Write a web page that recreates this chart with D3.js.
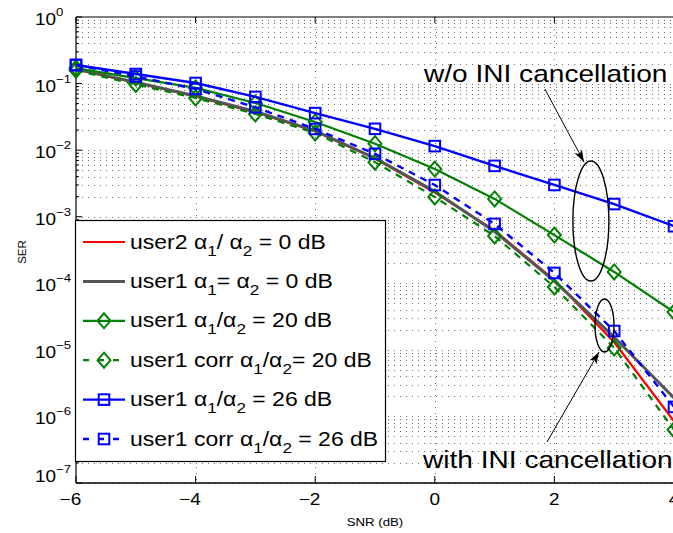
<!DOCTYPE html>
<html><head><meta charset="utf-8">
<script src="https://cdn.jsdelivr.net/npm/d3@7"></script>
<style>
body{margin:0;background:#fff;}
svg{display:block;}
text{font-family:"Liberation Sans",Arial,Helvetica,sans-serif;fill:#000;}
</style>
</head><body>
<svg id="chart" width="673" height="533"></svg>
<script>
// ---------------- data ----------------
const snr = [-6, -5, -4, -3, -2, -1, 0, 1, 2, 3, 4];
const user2_0dB      = [0.163, 0.103, 0.064, 0.037, 0.0192, 0.0075, 0.0023, 0.00062, 1.12e-4, 1.30e-5, 8.5e-7];
const user1_0dB      = [0.165, 0.105, 0.065, 0.038, 0.0195, 0.0076, 0.0024, 0.00060, 1.08e-4, 1.55e-5, 1.9e-6];
const user1_20dB     = [0.171, 0.121, 0.086, 0.051, 0.0265, 0.0125, 0.0052, 0.00185, 0.00053, 0.000148, 3.7e-5];
const user1corr_20dB = [0.158, 0.097, 0.0607, 0.0349, 0.0181, 0.0066, 0.00198, 0.000513, 8.8e-5, 1.07e-5, 6.3e-7];
const user1_26dB     = [0.19, 0.139, 0.102, 0.063, 0.036, 0.0209, 0.0115, 0.0058, 0.0030, 0.00155, 0.00072];
const user1corr_26dB = [0.19, 0.128, 0.083, 0.044, 0.0208, 0.0088, 0.00299, 0.00078, 0.000143, 1.92e-5, 1.39e-6];
const seriesLabels = [
  "user2 α_1/ α_2 = 0 dB",
  "user1 α_1= α_2 = 0 dB",
  "user1 α_1/α_2 = 20 dB",
  "user1 corr α_1/α_2= 20 dB",
  "user1 α_1/α_2 = 26 dB",
  "user1 corr α_1/α_2 = 26 dB"
];
const xTicks = [-6, -4, -2, 0, 2, 4];
const yTickExps = [0, -1, -2, -3, -4, -5, -6, -7];
const xLabel = "SNR (dB)";
const yLabel = "SER";
const annotTop = "w/o INI cancellation";
const annotBottom = "with INI cancellation";

// ---------------- styles ----------------
const seriesData = [user2_0dB, user1_0dB, user1_20dB, user1corr_20dB, user1_26dB, user1corr_26dB];
const styles = [
  {color: "#ff0000", width: 2.2, dash: null, marker: null},
  {color: "#555555", width: 3, dash: null, marker: null},
  {color: "#008000", width: 2.2, dash: null, marker: "diamond"},
  {color: "#008000", width: 2.2, dash: "7,6", marker: "diamond"},
  {color: "#0000ff", width: 2.4, dash: null, marker: "square"},
  {color: "#0000ff", width: 2.4, dash: "7,6", marker: "square"}
];
const S = 1.15; // horizontal text stretch

const svg = d3.select("#chart");
const L = 76, R = 674, T = 17, B = 483;
const x = d3.scaleLinear().domain([-6, 4]).range([L, R]);
const y = d3.scaleLog().domain([1e-7, 1]).range([B, T]);

// ---------------- grid ----------------
const grid = svg.append("g").attr("stroke", "#333").attr("stroke-width", 1).attr("stroke-dasharray", "1,5").attr("opacity", 0.7);
const yGridVals = [];
for (let e = -7; e < 0; e++) for (let k = 1; k <= 9; k++) yGridVals.push(k * Math.pow(10, e));
grid.selectAll("line.h").data(yGridVals).join("line")
  .attr("x1", L).attr("x2", R)
  .attr("y1", d => Math.round(y(d)) + 0.5).attr("y2", d => Math.round(y(d)) + 0.5);
grid.selectAll("line.v").data(xTicks.slice(1, -1)).join("line")
  .attr("x1", d => Math.round(x(d)) + 0.5).attr("x2", d => Math.round(x(d)) + 0.5)
  .attr("y1", T).attr("y2", B);

// ---------------- axes box & ticks ----------------
const ax = svg.append("g").attr("stroke", "#000").attr("fill", "none");
ax.append("line").attr("x1", L).attr("x2", R).attr("y1", B).attr("y2", B).attr("stroke-width", 1.5);
ax.append("line").attr("x1", L).attr("x2", R).attr("y1", T).attr("y2", T).attr("stroke-width", 1.2);
ax.append("line").attr("x1", L).attr("x2", L).attr("y1", T).attr("y2", B).attr("stroke-width", 1.2);
yTickExps.forEach(e => {
  const yy = y(Math.pow(10, e));
  ax.append("line").attr("x1", L).attr("x2", L + 6).attr("y1", yy).attr("y2", yy);
});
yGridVals.filter((d, i) => i % 9 !== 0).forEach(d => {
  ax.append("line").attr("x1", L).attr("x2", L + 3).attr("y1", y(d)).attr("y2", y(d));
});
xTicks.forEach(t => {
  ax.append("line").attr("x1", x(t)).attr("x2", x(t)).attr("y1", B).attr("y2", B - 7);
  ax.append("line").attr("x1", x(t)).attr("x2", x(t)).attr("y1", T).attr("y2", T + 6);
});

// tick labels
const lab = svg.append("g");
xTicks.forEach(t => {
  lab.append("text").attr("transform", `translate(${x(t) + 5.2},505) scale(${S},1)`)
    .attr("text-anchor", "end").attr("font-size", 16.5)
    .text(t < 0 ? "\u2212" + Math.abs(t) : String(t));
});
yTickExps.forEach((e, i) => {
  const yy = y(Math.pow(10, e));
  const off = (i === yTickExps.length - 1) ? -9 : 0;
  lab.append("text").attr("transform", `translate(35,${yy + 8 + off}) scale(${S},1)`)
    .attr("font-size", 16.5).text("10");
  lab.append("text").attr("transform", `translate(56,${yy - 1 + off}) scale(${S},1)`)
    .attr("font-size", 11.5).text(e < 0 ? "\u2212" + Math.abs(e) : String(e));
});
lab.append("text").attr("transform", `translate(375,526) scale(${S},1)`)
  .attr("text-anchor", "middle").attr("font-size", 11.5).text(xLabel);
lab.append("text").attr("transform", `translate(26,252) rotate(-90)`)
  .attr("text-anchor", "middle").attr("font-size", 11.5).text(yLabel);

// ---------------- markers ----------------
function drawMarker(g, type, cx, cy, color) {
  if (type === "diamond") {
    g.append("path").attr("d", `M${cx},${cy - 7.5}L${cx + 6.5},${cy}L${cx},${cy + 7.5}L${cx - 6.5},${cy}Z`)
      .attr("fill", "none").attr("stroke", color).attr("stroke-width", 2);
  } else if (type === "square") {
    g.append("rect").attr("x", cx - 5.3).attr("y", cy - 5.3).attr("width", 10.6).attr("height", 10.6)
      .attr("fill", "none").attr("stroke", color).attr("stroke-width", 2);
  }
}

// ---------------- series ----------------
const line = d3.line().x((d, i) => x(snr[i])).y(d => y(d));
const plot = svg.append("g");
seriesData.forEach((vals, si) => {
  const st = styles[si];
  const g = plot.append("g");
  g.append("path").attr("d", line(vals)).attr("fill", "none")
    .attr("stroke", st.color).attr("stroke-width", st.width)
    .attr("stroke-dasharray", st.dash).attr("stroke-linejoin", "round");
  if (st.marker) vals.forEach((v, i) => drawMarker(g, st.marker, x(snr[i]), y(v), st.color));
});

// ---------------- annotations ----------------
const defs = svg.append("defs");
defs.append("marker").attr("id", "ah").attr("viewBox", "0 0 12 8").attr("refX", 12).attr("refY", 4)
  .attr("markerWidth", 12).attr("markerHeight", 8).attr("markerUnits", "userSpaceOnUse").attr("orient", "auto")
  .append("path").attr("d", "M0,0L12,4L0,8L3,4Z").attr("fill", "#000");
const an = svg.append("g");
an.append("ellipse").attr("cx", x(2.61)).attr("cy", y(8.6e-4)).attr("rx", 18).attr("ry", 60)
  .attr("fill", "none").attr("stroke", "#000").attr("stroke-width", 1.4);
an.append("ellipse").attr("cx", x(2.838)).attr("cy", y(2.32e-5)).attr("rx", 9.5).attr("ry", 26.5)
  .attr("fill", "none").attr("stroke", "#000").attr("stroke-width", 1.4);
an.append("line").attr("x1", x(1.84)).attr("y1", y(0.0828)).attr("x2", x(2.495)).attr("y2", y(0.00664))
  .attr("stroke", "#000").attr("stroke-width", 1).attr("marker-end", "url(#ah)");
an.append("line").attr("x1", x(1.876)).attr("y1", y(4.13e-7)).attr("x2", x(2.746)).attr("y2", y(9.28e-6))
  .attr("stroke", "#000").attr("stroke-width", 1).attr("marker-end", "url(#ah)");
an.append("text").attr("transform", `translate(${x(-0.181)},${y(0.1056)}) scale(1.17,1)`)
  .attr("font-size", 24).text(annotTop);
an.append("text").attr("transform", `translate(${x(-0.197)},${y(1.68e-7)}) scale(1.17,1)`)
  .attr("font-size", 24).text(annotBottom);

// ---------------- legend ----------------
const lg = svg.append("g");
lg.append("rect").attr("x", 75.5).attr("y", 220.5).attr("width", 310).attr("height", 241)
  .attr("fill", "#fff").attr("stroke", "#000").attr("stroke-width", 1.2);
function richText(t, str, subSize, shift) {
  let buf = "", inSub = false;
  const flush = () => {
    if (!buf) return;
    const ts = t.append("tspan").text(buf);
    if (inSub) { ts.attr("dy", -shift); inSub = false; }
    buf = "";
  };
  for (let i = 0; i < str.length; i++) {
    if (str[i] === "_" && i + 1 < str.length) {
      flush();
      const ts = t.append("tspan").attr("font-size", subSize).text(str[i + 1]);
      if (!inSub) ts.attr("dy", shift);
      inSub = true;
      i++;
    } else buf += str[i];
  }
  flush();
}
seriesLabels.forEach((lbl, i) => {
  const st = styles[i];
  const yy = 242 + i * 39.4;
  lg.append("line").attr("x1", 83).attr("x2", 125).attr("y1", yy).attr("y2", yy)
    .attr("stroke", st.color).attr("stroke-width", st.width).attr("stroke-dasharray", st.dash ? "6,9" : null);
  if (st.marker) drawMarker(lg, st.marker, 104, yy, st.color);
  const t = lg.append("text").attr("transform", `translate(130,${yy + 6.5}) scale(1.18,1)`).attr("font-size", 19.5);
  richText(t, lbl, 14.5, 7);
});
</script>
</body></html>
